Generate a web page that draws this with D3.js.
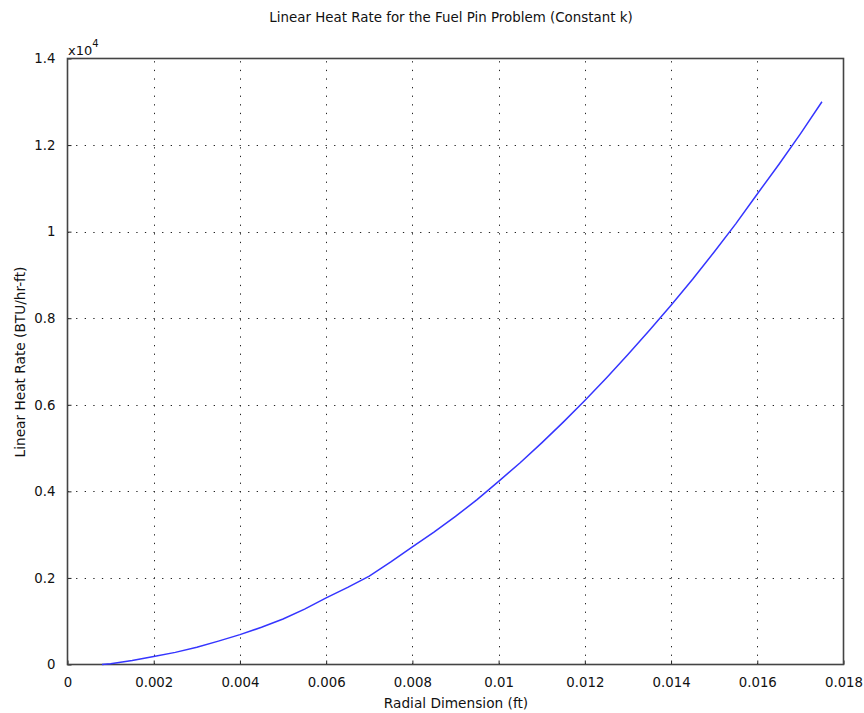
<!DOCTYPE html>
<html>
<head>
<meta charset="utf-8">
<script src="https://cdn.jsdelivr.net/npm/d3@7"></script>
<style>
  html, body { margin: 0; padding: 0; background: #fff; }
  svg text { font-family: "DejaVu Sans", Tahoma, sans-serif; fill: #111; }
</style>
</head>
<body>
<svg id="chart" width="864" height="713"></svg>
<script>
// Radial position in the fuel pin (ft)
const radius = [0.0008, 0.001, 0.0015, 0.002, 0.0025, 0.003, 0.0035, 0.004, 0.0045, 0.005,
  0.0055, 0.006, 0.0065, 0.007, 0.0075, 0.008, 0.0085, 0.009, 0.0095, 0.010,
  0.0105, 0.011, 0.0115, 0.012, 0.0125, 0.013, 0.0135, 0.014, 0.0145, 0.015,
  0.0155, 0.016, 0.0165, 0.017, 0.0175];
// Linear heat rate (BTU/hr-ft)
const heatRate = [0, 20, 90, 185, 280, 400, 540, 690, 860, 1050,
  1280, 1540, 1780, 2040, 2370, 2720, 3060, 3420, 3810, 4230,
  4660, 5120, 5600, 6100, 6620, 7160, 7720, 8300, 8900, 9530,
  10180, 10870, 11550, 12260, 13000];

const xTicks = [0, 0.002, 0.004, 0.006, 0.008, 0.010, 0.012, 0.014, 0.016, 0.018];
const xTickLabels = ["0", "0.002", "0.004", "0.006", "0.008", "0.01", "0.012", "0.014", "0.016", "0.018"];
const yTicks = [0, 2000, 4000, 6000, 8000, 10000, 12000, 14000];
const yTickLabels = ["0", "0.2", "0.4", "0.6", "0.8", "1", "1.2", "1.4"];

const titleText = "Linear Heat Rate for the Fuel Pin Problem (Constant k)";
const xLabel = "Radial Dimension (ft)";
const yLabel = "Linear Heat Rate (BTU/hr-ft)";

const margin = { left: 67.5, right: 843.5, top: 58.5, bottom: 664.5 };
const svg = d3.select("#chart");

const x = d3.scaleLinear().domain([0, 0.018]).range([margin.left, margin.right]);
const y = d3.scaleLinear().domain([0, 14000]).range([margin.bottom, margin.top]);

// Dotted grid
const grid = svg.append("g");
grid.selectAll("line.gx").data(xTicks.slice(1, -1)).join("line")
  .attr("x1", d => Math.round(x(d)) + 0.5).attr("x2", d => Math.round(x(d)) + 0.5)
  .attr("y1", margin.bottom).attr("y2", margin.top)
  .attr("stroke", "#222").attr("stroke-width", 1).attr("stroke-dasharray", "1.3,7.3");
grid.selectAll("line.gy").data(yTicks.slice(1, -1)).join("line")
  .attr("y1", d => Math.round(y(d)) + 0.5).attr("y2", d => Math.round(y(d)) + 0.5)
  .attr("x1", margin.left).attr("x2", margin.right)
  .attr("stroke", "#222").attr("stroke-width", 1).attr("stroke-dasharray", "1.3,7.3");

// Axes with inward ticks
const xAxis = d3.axisBottom(x).tickValues(xTicks).tickSizeInner(-4).tickSizeOuter(0)
  .tickPadding(13).tickFormat((d, i) => xTickLabels[i]);
const gx = svg.append("g").attr("transform", `translate(0,${margin.bottom})`).call(xAxis);
gx.select(".domain").remove();
gx.selectAll(".tick line").attr("stroke", "#222");
gx.selectAll(".tick text").attr("font-size", 13.3).style("font-family", "DejaVu Sans, sans-serif");

const yAxis = d3.axisLeft(y).tickValues(yTicks).tickSizeInner(-4).tickSizeOuter(0)
  .tickPadding(12).tickFormat((d, i) => yTickLabels[i]);
const gy = svg.append("g").attr("transform", `translate(${margin.left},0)`).call(yAxis);
gy.select(".domain").remove();
gy.selectAll(".tick line").attr("stroke", "#222");
gy.selectAll(".tick text").attr("font-size", 13.3).style("font-family", "DejaVu Sans, sans-serif");

// Frame around the plot area
svg.append("rect")
  .attr("x", margin.left).attr("y", margin.top)
  .attr("width", margin.right - margin.left).attr("height", margin.bottom - margin.top)
  .attr("fill", "none").attr("stroke", "#444").attr("stroke-width", 1.6);

// Heat rate curve
const line = d3.line().x((d, i) => x(radius[i])).y(d => y(d));
svg.append("path").datum(heatRate)
  .attr("d", line)
  .attr("fill", "none").attr("stroke", "#3535ff").attr("stroke-width", 1.5);

// Exponent marker
const expo = svg.append("text").attr("x", 68).attr("y", 55).attr("font-size", 13);
expo.append("tspan").text("x10");
expo.append("tspan").attr("dy", -8).attr("font-size", 10).text("4");

// Title and axis labels
svg.append("text").attr("x", 451).attr("y", 22).attr("text-anchor", "middle")
  .attr("font-size", 13.4).text(titleText);
svg.append("text").attr("x", 456).attr("y", 708).attr("text-anchor", "middle")
  .attr("font-size", 13.7).text(xLabel);
svg.append("text").attr("transform", "translate(25,362) rotate(-90)")
  .attr("text-anchor", "middle").attr("font-size", 13.7).text(yLabel);
</script>
</body>
</html>
